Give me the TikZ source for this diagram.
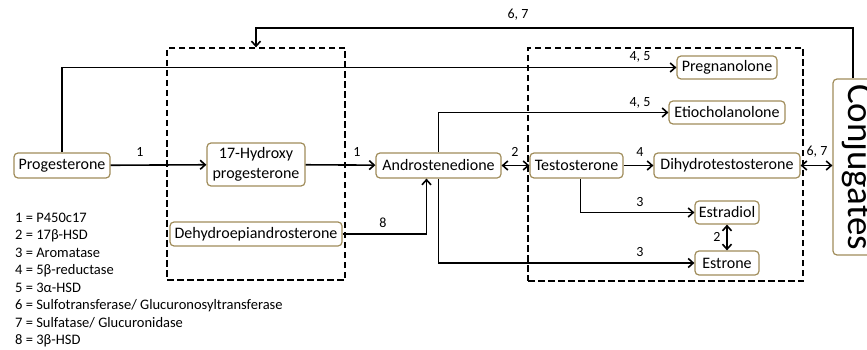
\documentclass[tikz,border=0pt]{standalone}
\usepackage{fontspec}
\setmainfont{Carlito}
\usetikzlibrary{arrows.meta}
\definecolor{tan}{RGB}{160,140,90}
\begin{document}
\begin{tikzpicture}[x=1pt,y=-1pt,
  box/.style={draw=tan, line width=1.2pt, rounded corners=4pt, inner sep=1pt, font=\fontsize{16}{20}\selectfont},
  dbox/.style={draw=black, line width=1.3pt, dash pattern=on 6.5pt off 3.5pt},
  arr/.style={line width=1.6pt, -{Straight Barb[length=5pt,width=9pt,line width=1.6pt]}},
  darr/.style={line width=1.6pt, {Straight Barb[length=5pt,width=9pt,line width=1.6pt]}-{Straight Barb[length=5pt,width=9pt,line width=1.6pt]}},
  lbl/.style={font=\fontsize{14}{16}\selectfont, inner sep=0pt},
  leg/.style={font=\fontsize{14.5}{17.5}\selectfont, inner sep=0pt, anchor=west}]
\useasboundingbox (0,0) rectangle (867,350);
% dashed boxes
\node[dbox, minimum width=178, minimum height=232] (lbox) at (256,164) {};
\node[dbox, minimum width=275, minimum height=233] (rbox) at (665.5,164.5) {};
% nodes
\node[box, minimum width=96, minimum height=25] (prog) at (62,165.5) {Progesterone};
\node[box, minimum width=98, minimum height=43, align=center] (hyd) at (256,164.5) {17-Hydroxy\\progesterone};
\node[box, minimum width=125, minimum height=25] (andro) at (438.5,165.5) {Androstenedione};
\node[box, minimum width=93, minimum height=25] (testo) at (576.5,165.5) {Testosterone};
\node[box, minimum width=146, minimum height=25] (dht) at (727,165.5) {Dihydrotestosterone};
\node[box, minimum width=100, minimum height=23] (preg) at (727,67.5) {Pregnanolone};
\node[box, minimum width=116, minimum height=23] (etio) at (727,112.5) {Etiocholanolone};
\node[box, minimum width=172, minimum height=24] (dhea) at (256,234) {Dehydroepiandrosterone};
\node[box, minimum width=64, minimum height=23] (estd) at (727,212.5) {Estradiol};
\node[box, minimum width=64, minimum height=24] (estr) at (727,263) {Estrone};
\node[box, minimum width=50, minimum height=176, inner sep=0pt, font=\fontsize{37}{40}\selectfont] (conj) at (858,167) {\rotatebox{-90}{Conjugates}};
% connectors
\draw[arr] (prog) -- (hyd);
\draw[arr] (hyd) -- (andro);
\draw[darr] (andro) -- (testo);
\draw[arr] (testo) -- (dht);
\draw[darr] (dht) -- (dht -| conj.west);
\draw[arr] (prog.north) |- (preg.west);
\draw[arr] (andro.north) |- (etio.west);
\draw[arr] (andro.south) |- (estr.west);
\draw[arr] ([xshift=4pt]testo.south) |- (estd.west);
\draw[arr] (dhea.east) -| ([xshift=-12pt]andro.south);
\draw[darr] (estd) -- (estr);
\coordinate (loop) at (256,28);
\draw[arr] ([xshift=-5pt]conj.north) |- (loop) -- (lbox.north);
% connector labels
\node[lbl] (l1) at (140,152) {1};
\node[lbl] (l2) at (357,152) {1};
\node[lbl] (l3) at (515,152) {2};
\node[lbl] (l4) at (640,152) {4};
\node[lbl] (l5) at (817,152) {6, 7};
\node[lbl] (l6) at (640,57) {4, 5};
\node[lbl] (l7) at (640,103) {4, 5};
\node[lbl] (l8) at (640,202) {3};
\node[lbl] (l9) at (640,252) {3};
\node[lbl] (l10) at (383,223) {8};
\node[lbl] (l11) at (717,237) {2};
\node[lbl] (l12) at (518,15) {6, 7};
% legend
\node[leg] (g1) at (15,218) {1 = P450c17};
\node[leg] (g2) at (15,236) {2 = 17β-HSD};
\node[leg] (g3) at (15,253) {3 = Aromatase};
\node[leg] (g4) at (15,271) {4 = 5β-reductase};
\node[leg] (g5) at (15,288) {5 = 3α-HSD};
\node[leg] (g6) at (15,306) {6 = Sulfotransferase/ Glucuronosyltransferase};
\node[leg] (g7) at (15,323) {7 = Sulfatase/ Glucuronidase};
\node[leg] (g8) at (15,341) {8 = 3β-HSD};
\end{tikzpicture}
\end{document}
